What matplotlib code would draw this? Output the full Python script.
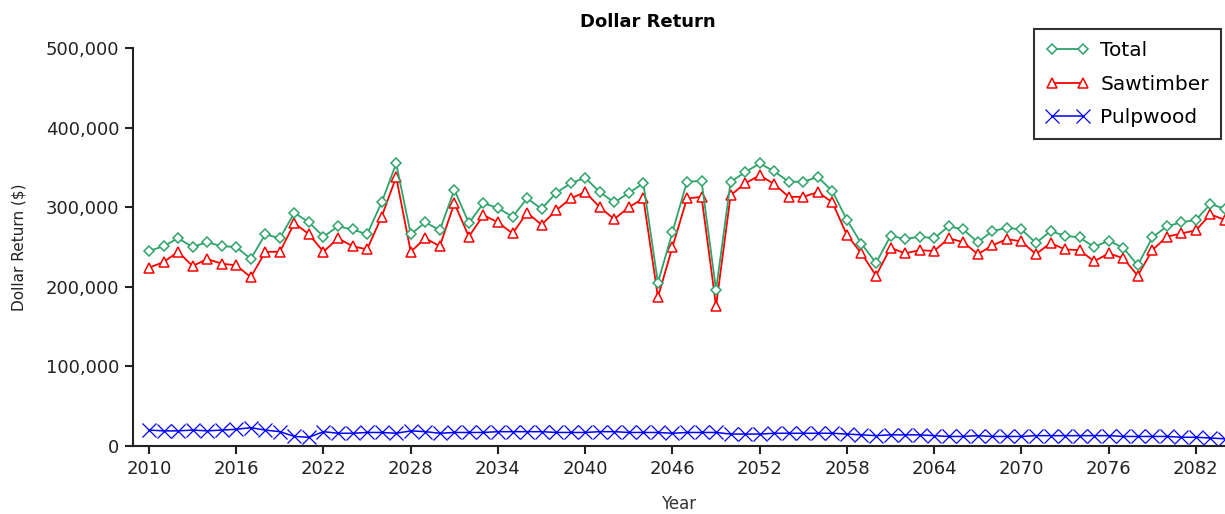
import matplotlib
matplotlib.use("Agg")
import matplotlib.pyplot as plt
from matplotlib.ticker import FuncFormatter, FixedLocator

years = list(range(2010, 2085))

total = [245, 251, 261, 250, 256, 251, 250, 235, 266, 261,
         293, 281, 263, 276, 272, 266, 306, 355, 266, 281,
         271, 322, 280, 305, 299, 288, 311, 298, 318, 330,
         337, 319, 306, 318, 330, 205, 269, 332, 333, 196,
         332, 344, 355, 345, 332, 332, 338, 320, 284, 254,
         230, 264, 260, 263, 261, 276, 272, 256, 270, 274,
         272, 255, 270, 264, 262, 250, 258, 249, 227, 262,
         276, 281, 284, 304, 298]

sawtimber = [224, 231, 244, 226, 235, 229, 227, 212, 244, 244,
             280, 266, 244, 261, 251, 247, 288, 338, 244, 261,
             251, 305, 263, 290, 281, 267, 293, 278, 296, 311,
             319, 300, 285, 300, 311, 187, 250, 311, 313, 176,
             315, 330, 340, 329, 313, 313, 319, 306, 265, 242,
             214, 249, 242, 246, 245, 261, 256, 241, 252, 260,
             257, 241, 255, 247, 246, 232, 242, 236, 214, 246,
             263, 267, 271, 291, 284]

pulpwood = [20, 19, 19, 20, 19, 20, 21, 23, 20, 18,
            12, 11, 18, 16, 16, 17, 17, 16, 19, 18,
            16, 17, 17, 17, 18, 18, 18, 18, 17, 17,
            17, 18, 18, 17, 17, 17, 16, 17, 17, 17,
            15, 15, 15, 16, 16, 16, 16, 16, 15, 14,
            13, 14, 14, 14, 13, 12, 12, 13, 12, 12,
            12, 13, 13, 13, 13, 13, 13, 12, 12, 12,
            12, 11, 11, 10, 9]

total = [v * 1000 for v in total]
sawtimber = [v * 1000 for v in sawtimber]
pulpwood = [v * 1000 for v in pulpwood]

x_ticks = list(range(2010, 2085, 6))
y_ticks = [0, 100000, 200000, 300000, 400000, 500000]

plt.rcParams['font.family'] = ['DejaVu Sans']

fig = plt.figure(figsize=(12.25, 5.14), dpi=100)
ax = fig.add_axes([133/1225, 1 - 446/514, 1 - 133/1225, (446 - 48)/514])

green = '#2EA36A'
l1, = ax.plot(years, total, color=green, lw=1.3, marker='D', ms=5.5,
              mfc='white', mec=green, mew=1.1, label='Total', zorder=3)
l2, = ax.plot(years, sawtimber, color='#FF0000', lw=1.3, marker='^', ms=7,
              mfc='white', mec='#FF0000', mew=1.1, label='Sawtimber', zorder=2)
l3, = ax.plot(years, pulpwood, color='#0000FF', lw=1.1, marker='x', ms=10,
              mec='#0000FF', mew=0.9, label='Pulpwood', zorder=2)

ax.set_xlim(2008.9, 2084)
ax.set_ylim(0, 500000)
ax.xaxis.set_major_locator(FixedLocator(x_ticks))
ax.yaxis.set_major_locator(FixedLocator(y_ticks))
ax.yaxis.set_major_formatter(FuncFormatter(lambda v, p: f"{int(v):,}"))

for s in ['top', 'right']:
    ax.spines[s].set_visible(False)
for s in ['left', 'bottom']:
    ax.spines[s].set_linewidth(1.5)
    ax.spines[s].set_color('#222222')

ax.tick_params(axis='both', direction='out', length=6, width=1.5,
               labelsize=13, colors='#222222', pad=4)

fig.text(648/1225, 1 - 22/514, 'Dollar Return', fontsize=13,
         fontweight='bold', ha='center', va='center')
ax.set_xlabel('Year', fontsize=12, color='#333333', labelpad=12)
ax.set_ylabel('Dollar Return ($)', fontsize=11, color='#222222', labelpad=14)

leg = fig.legend(handles=[l1, l2, l3], loc='upper right',
                 bbox_to_anchor=(1221/1225, 1 - 29/514), fontsize=14.5,
                 frameon=True, fancybox=False, handlelength=2.15, numpoints=2,
                 borderpad=0.6, labelspacing=0.72, handletextpad=0.55,
                 borderaxespad=0)
leg.get_frame().set_edgecolor('black')
leg.get_frame().set_linewidth(1.5)

fig.savefig('out.png', dpi=100)
